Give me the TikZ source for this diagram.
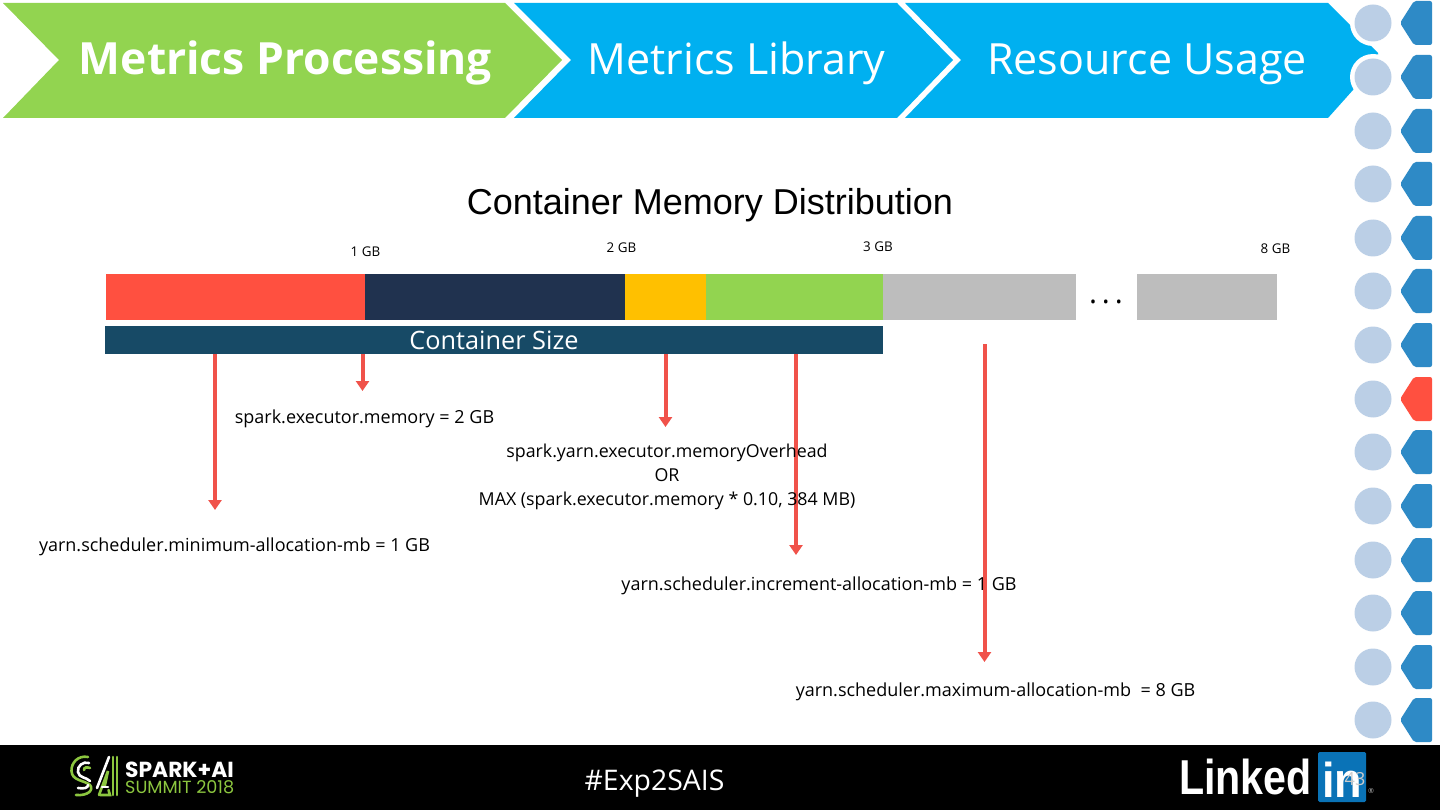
\documentclass[tikz,border=0pt]{standalone}
\usepackage{fontspec}
\setmainfont{Open Sans}
\newfontfamily\arialf{Liberation Sans}
\newfontfamily\popf{Poppins}
\usetikzlibrary{arrows.meta}
\definecolor{lime}{HTML}{92D450}
\definecolor{sky}{HTML}{00B0F0}
\definecolor{dot}{HTML}{BBCFE6}
\definecolor{tabblue}{HTML}{2E8AC6}
\definecolor{redx}{HTML}{FF5040}
\definecolor{navy}{HTML}{20324F}
\definecolor{ambr}{HTML}{FFC000}
\definecolor{grayx}{HTML}{BDBDBD}
\definecolor{teal}{HTML}{174A66}
\definecolor{arrowred}{HTML}{F0524A}
\definecolor{inblue}{HTML}{0A73B7}
\definecolor{sumgreen}{HTML}{8CC63F}
\tikzset{
 x=1pt,y=-1pt,
 seg/.style={inner sep=0,outer sep=0},
 lab/.style={inner sep=0,font=\fontsize{18}{24}\selectfont,text=black,align=center},
 gb/.style={inner sep=0,font=\fontsize{13.4}{15}\selectfont,text=black},
 head/.style={inner sep=0,text=white,font=\fontsize{43}{50}\selectfont},
 arr/.style={draw=arrowred,line width=4pt,-{Triangle[length=10pt,width=13pt]}},
 dotc/.style={fill=dot,draw=none},
 tab/.style={fill=tabblue,draw=none,rounded corners=2pt},
}
\newcommand{\tabat}[2]{\fill[tab,fill=#2] (1400,#1) -- (1414,#1-22) -- (1432,#1-22) -- (1432,#1+22) -- (1414,#1+22) -- cycle;}
\begin{document}
\begin{tikzpicture}
\useasboundingbox (0,0) rectangle (1440,810);
\fill[white] (0,0) rectangle (1440,810);
% chevrons
\fill[lime] (3,3) -- (505,3) -- (562,60) -- (505,118) -- (3,118) -- (59,60) -- cycle;
\fill[sky] (514,3) -- (897,3) -- (953,60) -- (897,118) -- (514,118) -- (571,60) -- cycle;
\fill[sky] (905,3) -- (1328,3) -- (1378,53) -- (1378,62) -- (1328,118) -- (905,118) -- (961,60) -- cycle;
\node[head,font=\fontsize{44.4}{50}\selectfont\bfseries,anchor=base] (t1) at (285.5,75) {Metrics Processing};
\node[head,anchor=base] (t2) at (736.5,75) {Metrics Library};
\node[head,anchor=base] (t3) at (1147,75) {Resource Usage};
% side rail
\foreach \y in {23,77,131,184,238,291,345,399,452,506,560,613,667,720}{
  \fill[white] (1373,\y) circle (23);
}
\foreach \y in {23,77,131,184,238,291,345,399,452,506,560,613,667,720}{
  \fill[dotc] (1373,\y) circle (18.5);
}
\foreach \y in {23,77,131,184,238,291,345,452,506,560,613,667,720}{
  \tabat{\y}{tabblue}
}
\tabat{399}{redx}
% title
\node[inner sep=0,font=\arialf\fontsize{36}{40}\selectfont,anchor=base] (title) at (710,215) {Container Memory Distribution};
% bar
\fill[redx] (106,274) rectangle (365,320);
\fill[navy] (365,274) rectangle (625,320);
\fill[ambr] (625,274) rectangle (706,320);
\fill[lime] (706,274) rectangle (883,320);
\fill[grayx] (883,274) rectangle (1076,320);
\fill[grayx] (1137,274) rectangle (1277,320);
\node[inner sep=0,font=\fontsize{30}{30}\selectfont,anchor=base] (dots) at (1106,303) {.\kern5pt.\kern5pt.};
\node[gb,anchor=base] (g1) at (365.5,257) {1 GB};
\node[gb,anchor=base] (g2) at (621.5,253) {2 GB};
\node[gb,anchor=base] (g3) at (878,252) {3 GB};
\node[gb,anchor=base] (g8) at (1275.5,254) {8 GB};
\node[fill=teal,seg,minimum width=778pt,minimum height=28pt,anchor=north west] (size) at (105,326) {};
\node[inner sep=0,text=white,font=\fontsize{25.3}{28}\selectfont,anchor=base] (sizet) at (494,349) {Container Size};
% arrows
\coordinate (a1s) at (215,354); \coordinate (a1e) at (215,510);
\coordinate (a2s) at (362.5,354); \coordinate (a2e) at (362.5,391);
\coordinate (a3s) at (665.5,354); \coordinate (a3e) at (665.5,427);
\coordinate (a4s) at (796,354); \coordinate (a4e) at (796,555);
\coordinate (a5s) at (984.5,344); \coordinate (a5e) at (984.5,662);
\draw[arr] (a1s) -- (a1e);
\draw[arr] (a2s) -- (a2e);
\draw[arr] (a3s) -- (a3e);
\draw[arr] (a4s) -- (a4e);
\draw[arr] (a5s) -- (a5e);
% labels
\node[lab,anchor=base] (l1) at (364.5,423) {spark.executor.memory = 2 GB};
\node[lab,font=\fontsize{17.8}{24}\selectfont,anchor=north] (l2) at (667,443.5) {\rule{0pt}{14pt}spark.yarn.executor.memoryOverhead\\OR\\MAX (spark.executor.memory * 0.10, 384 MB)};
\node[lab,anchor=base] (l3) at (234.5,551) {yarn.scheduler.minimum-allocation-mb = 1 GB};
\node[lab,anchor=base] (l4) at (819,590) {yarn.scheduler.increment-allocation-mb = 1 GB};
\node[lab,anchor=base] (l5) at (995.5,696) {yarn.scheduler.maximum-allocation-mb\ \ = 8 GB};
% footer
\fill[black] (0,745) rectangle (1440,810);
\node[inner sep=0,text=white,font=\fontsize{28.4}{32}\selectfont,anchor=base] (hash) at (654.5,790) {\#Exp2SAIS};
% summit logo
\begin{scope}[line width=2.6pt,line cap=round]
\draw[sumgreen] (88,757) .. controls (78,755) and (71,763) .. (71.5,771) .. controls (72,781) and (84,780) .. (90,785) .. controls (94,790) and (88,796) .. (76,795);
\draw[white] (89,763) .. controls (83,761) and (77,766) .. (78,772) .. controls (79,778) and (86,777) .. (90,781);
\draw[white] (78,788) .. controls (84,789) and (88,788) .. (88,785);
\draw[sumgreen] (84,770) .. controls (84,767) and (87,767) .. (90,768);
\draw[white] (97,788) -- (109,757);
\draw[sumgreen] (99,795) -- (108,771) -- (105,785) -- (103,787);
\draw[white] (102,787) -- (108,787);
\draw[sumgreen] (100,795) -- (110,795) -- (108.5,790);
\draw[sumgreen] (113,757) -- (113,795);
\draw[sumgreen] (117,757) -- (117,795);
\end{scope}
\node[inner sep=0,text=white,font=\popf\fontsize{21.8}{24}\selectfont\bfseries,anchor=base west] (sp) at (125,777) {SPARK+AI};
\node[inner sep=0,text=sumgreen,font=\popf\fontsize{17.6}{22}\selectfont,anchor=base west] (su) at (125,793) {SUMMIT 2018};
% linkedin
\node[inner sep=0,text=white,font=\arialf\fontsize{49}{50}\selectfont\bfseries,anchor=base west] (li) at (1179,794.5) {\scalebox{0.84}[1]{Linked}};
\fill[inblue,rounded corners=1.5pt] (1318,752) rectangle (1366,802);
\node[inner sep=0,text=white,font=\arialf\fontsize{49}{50}\selectfont\bfseries,anchor=base west] (in) at (1322,797) {\scalebox{0.92}[1]{in}};
\node[inner sep=0,text=white!80!black,font=\fontsize{18}{20}\selectfont,anchor=base] (pg) at (1355,785) {43};
\node[inner sep=0,text=white!70!black,font=\fontsize{7}{8}\selectfont] (reg) at (1371,791) {®};
\end{tikzpicture}
\end{document}
